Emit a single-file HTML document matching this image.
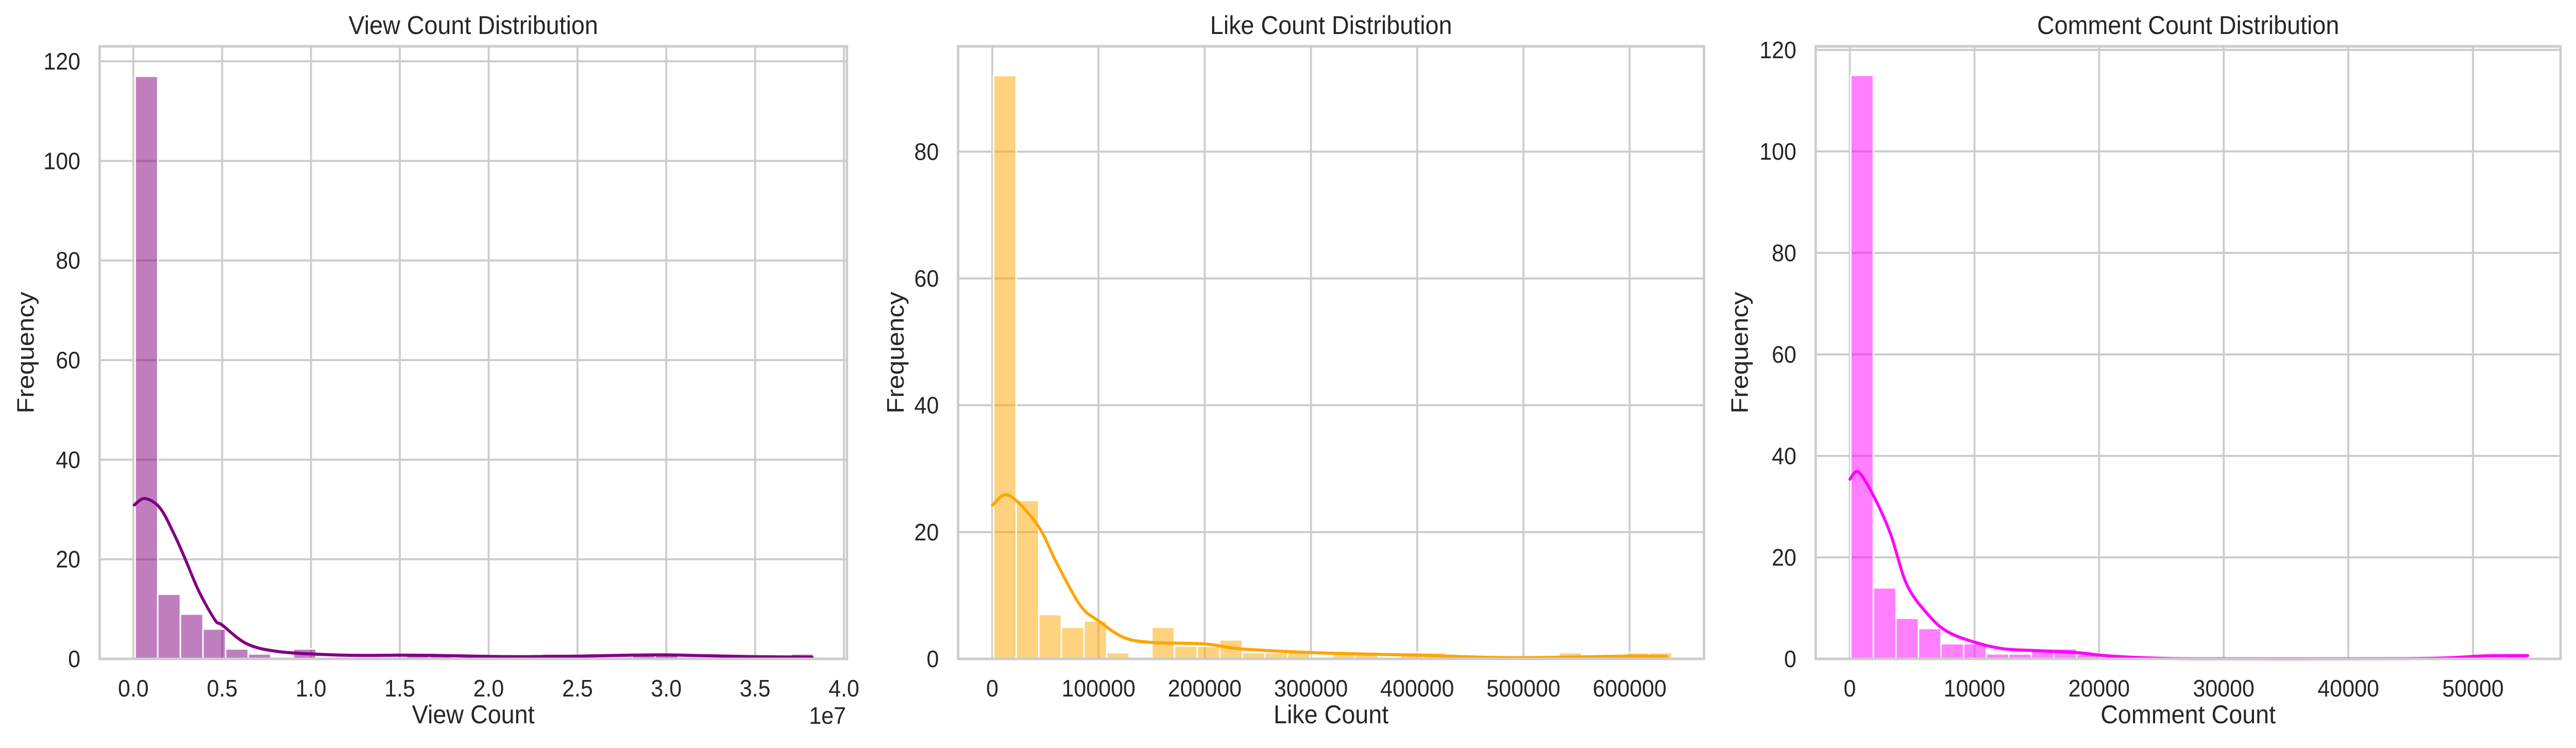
<!DOCTYPE html>
<html><head><meta charset="utf-8">
<style>
html,body{margin:0;padding:0;background:#fff;width:100vw;height:100vh;overflow:hidden;}
svg{display:block;width:100vw;height:100vh;font-family:"Liberation Sans",Arial,sans-serif;}
</style></head>
<body>
<svg id="chart" viewBox="0 0 5353 1452" preserveAspectRatio="none" xmlns="http://www.w3.org/2000/svg"></svg>
<script>
// ---- Panel 1: View Count ----
const viewBinStart = 0.1e6;
const viewBinWidth = 1.273e6;
const viewCounts = [117,13,9,6,2,1,0,2,0,0,0,0,1,1,0,0,0,0,1,0,0,0,1,1,0,0,0,0,0,1];
const viewKdeX = [0.05e6,0.65e6,1.5e6,2.3e6,2.9e6,3.7e6,4.6e6,5.0e6,6.4e6,8.2e6,10.9e6,13e6,15e6,17e6,20e6,22e6,25e6,28e6,30e6,32e6,35e6,38.2e6];
const viewKdeY = [30.9,32.2,30.3,25,20.2,13.5,7.8,6.8,3.0,1.45,0.86,0.7,0.75,0.7,0.5,0.45,0.55,0.75,0.8,0.65,0.45,0.35];
const viewXTicks = [0,0.5e7,1e7,1.5e7,2e7,2.5e7,3e7,3.5e7,4e7];
const viewXTickLabels = ["0.0","0.5","1.0","1.5","2.0","2.5","3.0","3.5","4.0"];
const viewYTicks = [0,20,40,60,80,100,120];

// ---- Panel 2: Like Count ----
const likeBinStart = 1200;
const likeBinWidth = 21290;
const likeCounts = [92,25,7,5,6,1,0,5,2,2,3,1,1,1,0,1,1,0,1,1,0,0,0,0,0,1,0,0,1,1];
const likeKdeX = [0,15400,42600,60700,83000,100000,123500,149500,200000,232600,300000,375000,400000,480000,550000,600000,635000];
const likeKdeY = [24.2,25.8,21.1,15.1,8.4,6.0,3.4,2.6,2.36,1.6,1.0,0.67,0.6,0.2,0.3,0.45,0.4];
const likeXTicks = [0,100000,200000,300000,400000,500000,600000];
const likeXTickLabels = ["0","100000","200000","300000","400000","500000","600000"];
const likeYTicks = [0,20,40,60,80];

// ---- Panel 3: Comment Count ----
const comBinStart = 77;
const comBinWidth = 1811;
const comCounts = [115,14,8,6,3,3,1,1,2,2,1,0,0,0,0,0,0,0,0,0,0,0,0,0,0,0,0,0,0,1];
const comKdeX = [0,700,1930,3270,4600,6400,7880,10000,12300,15250,18200,20700,25000,30000,40000,45000,48000,51000,54400];
const comKdeY = [35.4,36.8,32,24.6,14.5,8.4,5.3,3.3,2.0,1.6,1.25,0.6,0.1,0.02,0.02,0.05,0.2,0.6,0.65];
const comXTicks = [0,10000,20000,30000,40000,50000];
const comXTickLabels = ["0","10000","20000","30000","40000","50000"];
const comYTicks = [0,20,40,60,80,100,120];

const NS = "http://www.w3.org/2000/svg";
const svg = document.getElementById("chart");
function mk(tag, attrs, parent){
  const e = document.createElementNS(NS, tag);
  for (const k in attrs) e.setAttribute(k, attrs[k]);
  (parent||svg).appendChild(e);
  return e;
}
function smoothPath(pts){
  let d = "M" + pts[0][0].toFixed(1) + " " + pts[0][1].toFixed(1);
  for (let i=0;i<pts.length-1;i++){
    const p0 = pts[Math.max(0,i-1)], p1 = pts[i], p2 = pts[i+1], p3 = pts[Math.min(pts.length-1,i+2)];
    const c1x = p1[0] + (p2[0]-p0[0])/6, c1y = p1[1] + (p2[1]-p0[1])/6;
    const c2x = p2[0] - (p3[0]-p1[0])/6, c2y = p2[1] - (p3[1]-p1[1])/6;
    d += " C" + c1x.toFixed(1)+" "+c1y.toFixed(1)+" "+c2x.toFixed(1)+" "+c2y.toFixed(1)+" "+p2[0].toFixed(1)+" "+p2[1].toFixed(1);
  }
  return d;
}

function panel(cfg){
  const g = mk("g", {});
  
  
  const sx = v => cfg.left + (v - cfg.xmin) / (cfg.xmax - cfg.xmin) * (cfg.right - cfg.left);
  const sy = v => cfg.bottom - v / cfg.ymax * (cfg.bottom - cfg.top);
  cfg.xticks.forEach((t,i)=>{
    const l = mk("line",{x1:sx(t),x2:sx(t),y1:cfg.top,y2:cfg.bottom,stroke:"#cccccc","stroke-width":4},g);
    
    
    const tx = mk("text",{x:sx(t),y:1352,"text-anchor":"middle","font-size":46,fill:"#262626"},g);
    tx.textContent = cfg.xlabels[i];
    
    
  });
  cfg.yticks.forEach(t=>{
    const l = mk("line",{x1:cfg.left,x2:cfg.right,y1:sy(t),y2:sy(t),stroke:"#cccccc","stroke-width":4},g);
    
    
    const tx = mk("text",{x:cfg.left-40,y:sy(t)+16,"text-anchor":"end","font-size":46,fill:"#262626"},g);
    tx.textContent = String(t);
    
    
  });
  cfg.counts.forEach((c,i)=>{
    if (c<=0) return;
    const x0 = sx(cfg.binStart + i*cfg.binWidth), x1 = sx(cfg.binStart + (i+1)*cfg.binWidth);
    const r = mk("rect",{x:x0,y:sy(c),width:x1-x0,height:sy(0)-sy(c),fill:cfg.barColor,"fill-opacity":0.5,stroke:"#ffffff","stroke-width":3},g);
    
    
  });
  const pts = cfg.kx.map((x,i)=>[sx(x), sy(cfg.ky[i])]);
  const p = mk("path",{d:smoothPath(pts),fill:"none",stroke:cfg.lineColor,"stroke-width":6,"stroke-linejoin":"round","stroke-linecap":"round"},g);
  
  
  const f = mk("rect",{x:cfg.left,y:cfg.top,width:cfg.right-cfg.left,height:cfg.bottom-cfg.top,fill:"none",stroke:"#cccccc","stroke-width":5},g);
  
  
  const cx = (cfg.left+cfg.right)/2;
  const ti = mk("text",{x:cx,y:66,"text-anchor":"middle","font-size":50,fill:"#262626"},g);
  ti.textContent = cfg.title;
  
  
  const xl = mk("text",{x:cx,y:1404,"text-anchor":"middle","font-size":50,fill:"#262626"},g);
  xl.textContent = cfg.xtitle;
  
  
  const yl = mk("text",{x:cfg.ylabX,y:(cfg.top+cfg.bottom)/2,"text-anchor":"middle","font-size":50,fill:"#262626",transform:"rotate(-90 "+cfg.ylabX+" "+(cfg.top+cfg.bottom)/2+")"},g);
  yl.textContent = "Frequency";
  
  
  if (cfg.offset){
    const o = mk("text",{x:cfg.right-2,y:1405,"text-anchor":"end","font-size":46,fill:"#262626"},g);
    o.textContent = cfg.offset;
    
    
  }
}

panel({name:"view-count-panel",title:"View Count Distribution",xtitle:"View Count",offset:"1e7",
  left:207,right:1760,top:90,bottom:1279,xmin:-1.9e6,xmax:40.17e6,ymax:123,ylabX:70,
  xticks:viewXTicks,xlabels:viewXTickLabels,yticks:viewYTicks,counts:viewCounts,binStart:viewBinStart,binWidth:viewBinWidth,
  kx:viewKdeX,ky:viewKdeY,barColor:"#800080",lineColor:"#800080"});
panel({name:"like-count-panel",title:"Like Count Distribution",xtitle:"Like Count",
  left:1991,right:3541,top:90,bottom:1279,xmin:-32160,xmax:670000,ymax:96.6,ylabX:1878,
  xticks:likeXTicks,xlabels:likeXTickLabels,yticks:likeYTicks,counts:likeCounts,binStart:likeBinStart,binWidth:likeBinWidth,
  kx:likeKdeX,ky:likeKdeY,barColor:"#ffa500",lineColor:"#ffa500"});
panel({name:"comment-count-panel",title:"Comment Count Distribution",xtitle:"Comment Count",
  left:3773,right:5321,top:90,bottom:1279,xmin:-2741,xmax:57030,ymax:120.7,ylabX:3632,
  xticks:comXTicks,xlabels:comXTickLabels,yticks:comYTicks,counts:comCounts,binStart:comBinStart,binWidth:comBinWidth,
  kx:comKdeX,ky:comKdeY,barColor:"#ff00ff",lineColor:"#ff00ff"});
</script>
</body></html>
